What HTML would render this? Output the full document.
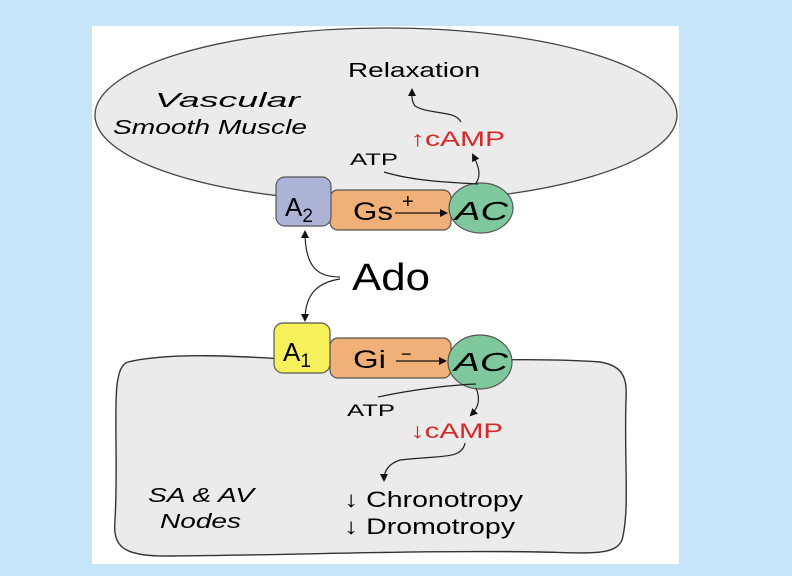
<!DOCTYPE html>
<html><head><style>
body{margin:0;width:792px;height:576px;background:#c6e5f9;overflow:hidden}
svg{display:block}
text{font-family:"Liberation Sans",sans-serif}
</style></head><body>
<svg width="792" height="576" viewBox="0 0 792 576">
<defs><marker id="a" markerWidth="8" markerHeight="8" refX="6" refY="4" orient="auto" markerUnits="userSpaceOnUse"><path d="M0,0 L8,4 L0,8 z" fill="#111"/></marker></defs>
<rect x="92" y="26" width="587" height="538" fill="#fff"/>
<ellipse cx="386" cy="115" rx="291" ry="87" fill="#ebebeb" stroke="#444" stroke-width="1.3"/>
<path d="M128,362 C170,352 240,356 300,360 C400,364 520,356 600,362 C625,366 627,380 626,400 C624,460 630,510 622,540 C615,556 590,553 540,552 C420,550 300,555 170,556 C120,557 113,545 115,520 C118,470 114,410 117,385 C119,370 122,364 128,362 Z" fill="#ebebeb" stroke="#333" stroke-width="1.4"/>
<rect x="330" y="190" width="121" height="40" rx="8" fill="#f0b077" stroke="#555" stroke-width="1.2"/>
<rect x="276" y="177" width="55" height="49" rx="9" fill="#adb3d6" stroke="#555" stroke-width="1.2"/>
<ellipse cx="481" cy="208" rx="32" ry="25" fill="#7fc79d" stroke="#555" stroke-width="1.2"/>
<rect x="330" y="338" width="121" height="40" rx="8" fill="#f0b077" stroke="#555" stroke-width="1.2"/>
<rect x="274" y="323" width="56" height="50" rx="9" fill="#f6f05a" stroke="#555" stroke-width="1.2"/>
<ellipse cx="480" cy="362" rx="32" ry="27" fill="#7fc79d" stroke="#555" stroke-width="1.2"/>
<text x="285" y="216" font-size="26">A<tspan font-size="19" dy="6">2</tspan></text>
<text x="353" y="220" font-size="25" textLength="40" lengthAdjust="spacingAndGlyphs">Gs</text>
<text x="402" y="208" font-size="20">+</text>
<line x1="395" y1="213" x2="446" y2="213" stroke="#111" stroke-width="1.3" marker-end="url(#a)"/>
<text x="455" y="220" font-size="26" font-style="italic" textLength="53" lengthAdjust="spacingAndGlyphs">AC</text>
<text x="283" y="361" font-size="26">A<tspan font-size="19" dy="6">1</tspan></text>
<text x="353" y="368" font-size="25" textLength="33" lengthAdjust="spacingAndGlyphs">Gi</text>
<text x="401" y="360" font-size="18">−</text>
<line x1="396" y1="361" x2="445" y2="361" stroke="#111" stroke-width="1.3" marker-end="url(#a)"/>
<text x="454" y="371" font-size="26" font-style="italic" textLength="54" lengthAdjust="spacingAndGlyphs">AC</text>
<text x="352" y="290" font-size="38" textLength="78" lengthAdjust="spacingAndGlyphs">Ado</text>
<text x="348" y="77" font-size="20" textLength="132" lengthAdjust="spacingAndGlyphs">Relaxation</text>
<text x="155" y="107" font-size="20" font-style="italic" textLength="145" lengthAdjust="spacingAndGlyphs">Vascular</text>
<text x="113" y="134" font-size="20" font-style="italic" textLength="194" lengthAdjust="spacingAndGlyphs">Smooth Muscle</text>
<text x="410" y="146" font-size="21" fill="#d62a2a" textLength="95" lengthAdjust="spacingAndGlyphs">↑cAMP</text>
<text x="350" y="165" font-size="17" textLength="48" lengthAdjust="spacingAndGlyphs">ATP</text>
<text x="347" y="416" font-size="17" textLength="48" lengthAdjust="spacingAndGlyphs">ATP</text>
<text x="410" y="438" font-size="21" fill="#d62a2a" textLength="93" lengthAdjust="spacingAndGlyphs">↓cAMP</text>
<text x="148" y="502" font-size="20" font-style="italic" textLength="106" lengthAdjust="spacingAndGlyphs">SA &amp; AV</text>
<text x="160" y="528" font-size="20" font-style="italic" textLength="81" lengthAdjust="spacingAndGlyphs">Nodes</text>
<text x="344" y="507" font-size="22" textLength="179" lengthAdjust="spacingAndGlyphs">↓ Chronotropy</text>
<text x="344" y="534" font-size="22" textLength="171" lengthAdjust="spacingAndGlyphs">↓ Dromotropy</text>
<g fill="none" stroke="#222" stroke-width="1.2">
<path d="M461,122 C455,110 430,115 415,106 C411,100 412,95 412,90" marker-end="url(#a)"/>
<path d="M384,172 C410,180 440,182 478,184"/>
<path d="M476,183 C482,175 478,165 473,155" marker-end="url(#a)"/>
<path d="M340,277 C320,277 305,270 305,232" marker-end="url(#a)"/>
<path d="M340,279 C320,282 305,292 305,320" marker-end="url(#a)"/>
<path d="M378,397 C410,390 450,385 476,384"/>
<path d="M476,388 C481,400 478,408 471,415" marker-end="url(#a)"/>
<path d="M465,443 C462,460 440,455 400,460 C385,465 384,475 384,480" marker-end="url(#a)"/>
</g>
</svg>
</body></html>
